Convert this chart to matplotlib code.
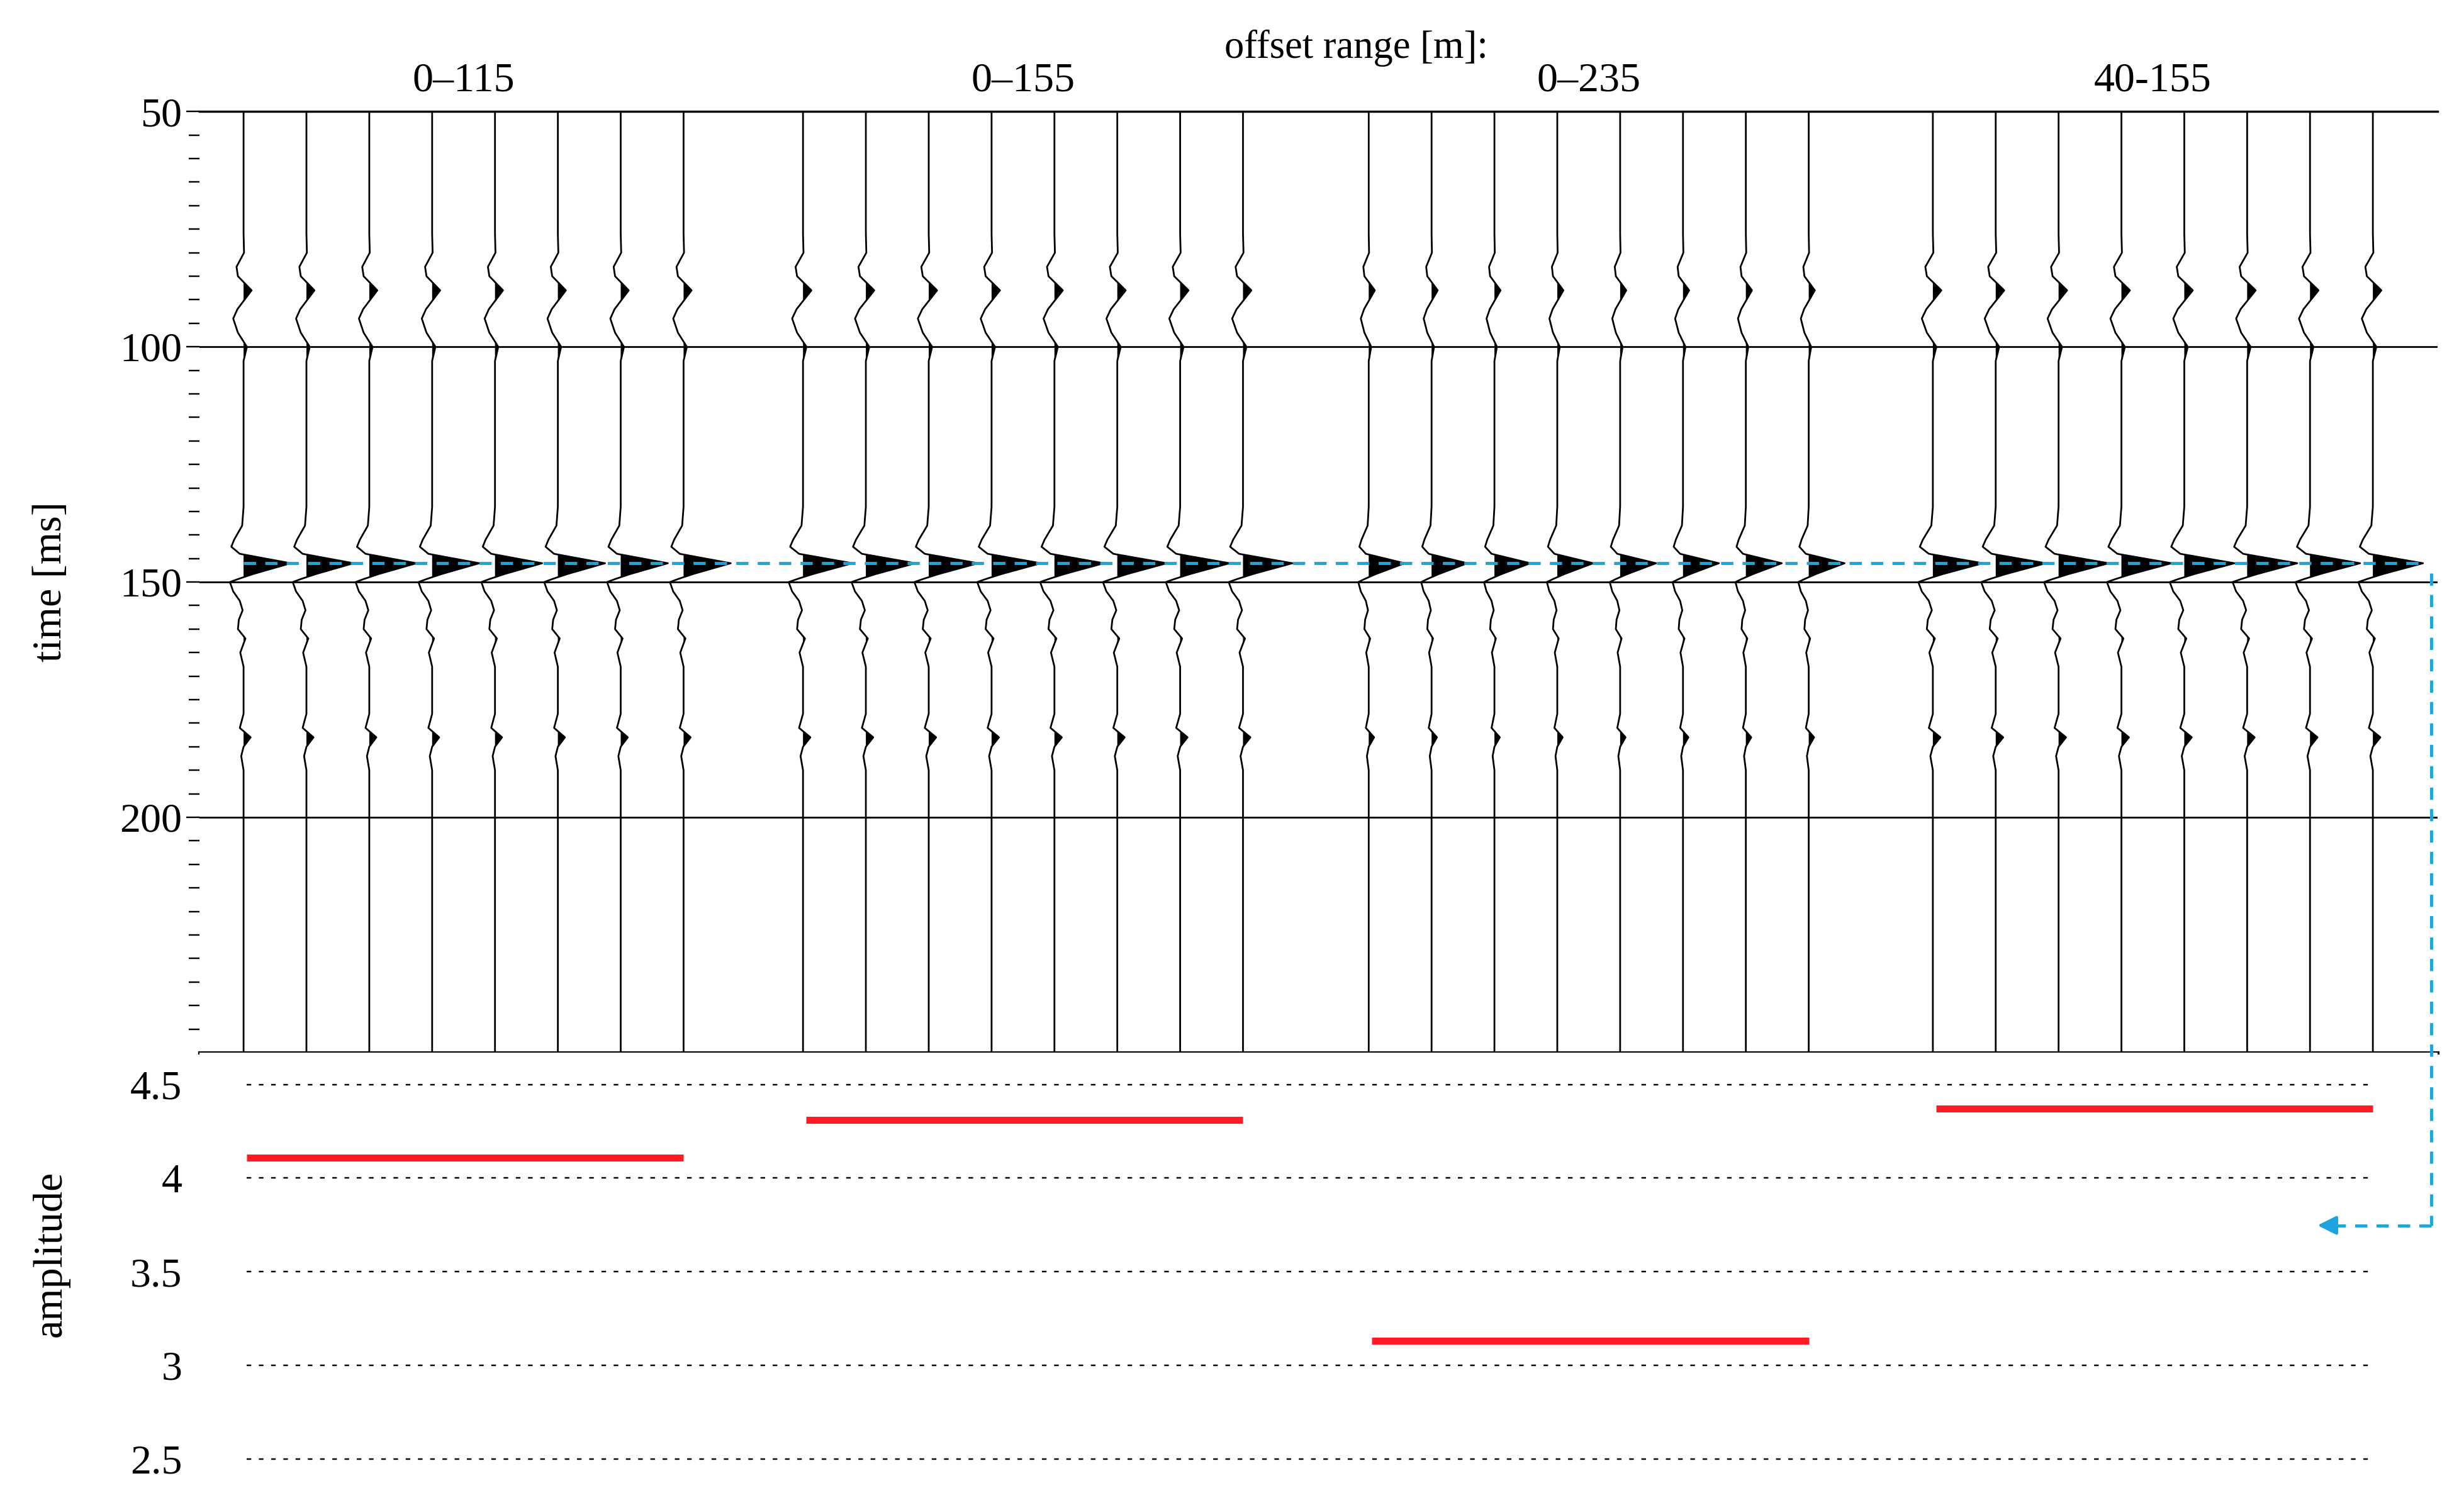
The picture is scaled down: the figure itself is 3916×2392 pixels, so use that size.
import numpy as np
import matplotlib
matplotlib.use("Agg")
import matplotlib.pyplot as plt

plt.rcParams['font.family'] = ['Liberation Serif', 'DejaVu Serif']

# ---- data ----
group_labels = ["0\u2013115", "0\u2013155", "0\u2013235", "40-155"]
group_start = [0.0, 8.9, 17.9, 26.875]      # trace-spacing units
traces_per_group = 8
amplitudes = [4.11, 4.31, 3.13, 4.37]
pick_time = 146

# wavelet control points (time ms, relative amplitude, main peak = 1)
w_time = [50, 76, 80, 83, 85, 88, 90, 92, 94, 97, 100, 103, 106,
          134, 138, 141, 142.5, 144, 146, 148.3, 149.3, 150, 152, 154,
          156, 158, 160, 162, 165, 168, 178, 181, 183, 185, 187, 190, 250]
w_amp  = [0, 0, 0.01, -0.15, -0.12, 0.17, 0.02, -0.13, -0.22, -0.12, 0.07, 0.0, 0.0,
          0, -0.03, -0.2, -0.26, -0.08, 1.0, 0.2, -0.1, -0.29, -0.22, -0.08,
          -0.02, -0.1, -0.12, 0.04, -0.07, 0, 0, -0.08, 0.15, 0.0, -0.05, 0, 0]

W, H = 3916, 2392
fig = plt.figure(figsize=(W/250, H/250), dpi=250)
L, R = 127/1568, 1551/1568
ax = fig.add_axes([L, 1-670/958, R-L, (670-71)/958])
ax2 = fig.add_axes([L, 1-955/958, R-L, (955-670)/958])

FS = 19
xlim = (-0.7, 34.9)
scale = 0.75 / 4.11
tt = np.array(w_time, float)
wa = np.array(w_amp, float)
for g, (s, a) in enumerate(zip(group_start, amplitudes)):
    for k in range(traces_per_group):
        x0 = s + k
        x = x0 + wa * a * scale
        ax.plot(x, tt, color='black', lw=0.8)
        ax.fill_betweenx(tt, x0, x, where=x >= x0, color='black', lw=0, interpolate=True)
    ax.text(s + 3.5, 47.5, group_labels[g], ha='center', va='bottom', fontsize=FS)
ax.text(17.9 - 0.2, 40.5, "offset range [m]:", ha='center', va='bottom', fontsize=FS-1)

for yv in [100, 150, 200]:
    ax.axhline(yv, color='black', lw=0.8, zorder=0)
ax.set_ylim(250, 50)
ax.set_xlim(*xlim)
ax.set_xticks([])
ax.set_yticks([50, 100, 150, 200])
ax.set_yticks(np.arange(55, 250, 5), minor=True)
ax.tick_params(axis='y', which='both', direction='out', length=6, width=0.7,
               labelsize=FS, pad=2)
ax.tick_params(axis='y', which='minor', length=5)
for sp in ['left', 'right']:
    ax.spines[sp].set_visible(False)
ax.spines['top'].set_linewidth(1.0)
ax.spines['bottom'].set_linewidth(1.5)
ax.set_ylabel("time [ms]", fontsize=FS)
ax.set_clip_on(False)

# pick line
ax.plot([group_start[0], 34.6], [pick_time, pick_time], color='#1ea4dc', lw=1.4,
        ls=(0, (4, 3)), zorder=5)

# amplitude panel
ax2.set_xlim(*xlim)
ax2.set_ylim(2.28, 4.67)
for yv in [2.5, 3, 3.5, 4, 4.5]:
    ax2.plot([0.05, 33.8], [yv, yv], color='black', lw=0.7, ls=(0, (3, 5)))
for s, a in zip(group_start, amplitudes):
    ax2.plot([s + 0.05, s + 7.0], [a, a], color='#ff1a24', lw=3.2, solid_capstyle='butt')
ax2.set_xticks([])
ax2.set_yticks([2.5, 3, 3.5, 4, 4.5])
ax2.set_yticklabels(["2.5", "3", "3.5", "4", "4.5"])
ax2.tick_params(axis='y', length=0, labelsize=FS, pad=8)
for sp in ax2.spines.values():
    sp.set_visible(False)
ax2.set_ylabel("amplitude", fontsize=FS)
ax2.yaxis.set_label_coords(-0.058, 0.55)
ax.yaxis.set_label_coords(-0.058, 0.5)

# connector from pick line down to amplitude panel
over = fig.add_axes([0, 0, 1, 1], facecolor='none')
over.set_xlim(0, 1568); over.set_ylim(958, 0); over.axis('off')
over.plot([1547, 1547], [365, 780], color='#1ea4dc', lw=1.4, ls=(0, (4, 3)))
over.plot([1547, 1485], [780, 780], color='#1ea4dc', lw=1.4, ls=(0, (4, 3)))
over.annotate("", xy=(1472, 780), xytext=(1490, 780),
              arrowprops=dict(arrowstyle='-|>', color='#1ea4dc', lw=1.4, mutation_scale=18))

fig.savefig("out.png", dpi=250)
